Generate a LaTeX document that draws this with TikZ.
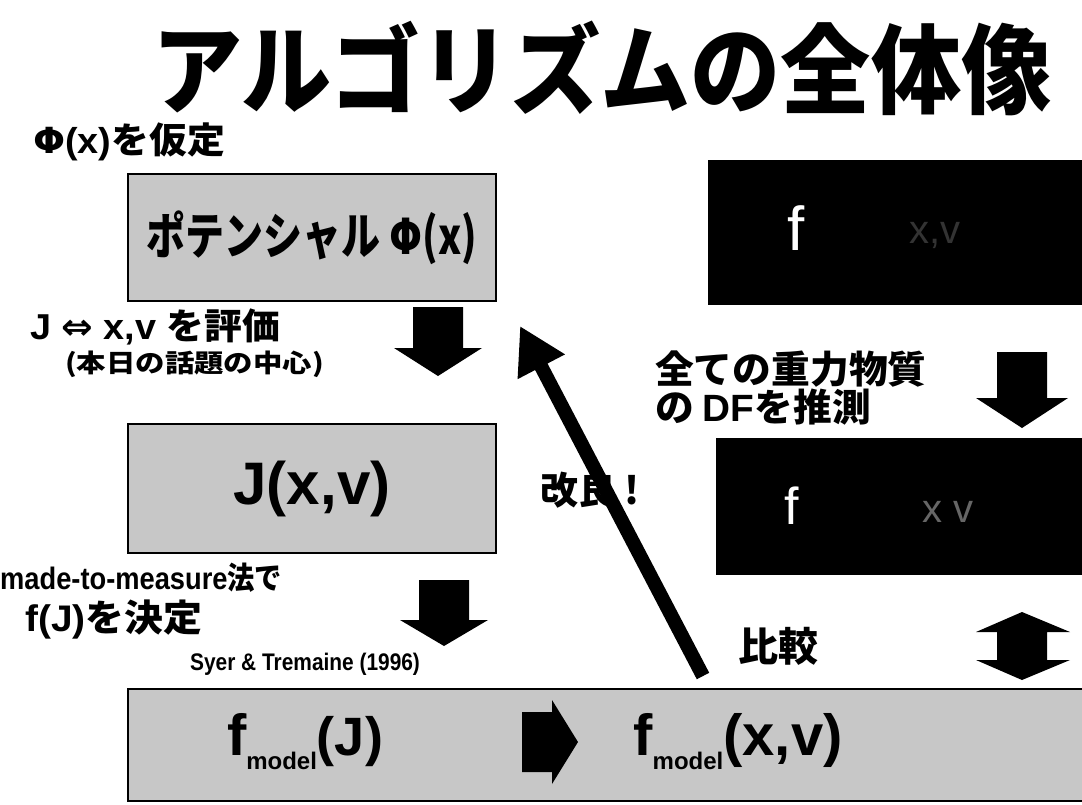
\documentclass[tikz,border=0pt]{standalone}
\usepackage{fontspec}
\setmainfont{Liberation Sans}
\newfontfamily\jp{Noto Sans CJK JP}
\newfontfamily\dv{DejaVu Sans}
\usetikzlibrary{arrows.meta}
\newcommand\blockdown[6]{% cx, ytop, ybot, shaft w, head w, head len
  \fill[black] ({#1-#4/2},#2) -- ({#1+#4/2},#2) -- ({#1+#4/2},{#3-#6}) -- ({#1+#5/2},{#3-#6})
    -- (#1,#3) -- ({#1-#5/2},{#3-#6}) -- ({#1-#4/2},{#3-#6}) -- cycle;}
\begin{document}
\begin{tikzpicture}[x=1pt,y=-1pt,
  graybox/.style={draw=black, line width=2pt, fill=black!22, anchor=north west, inner sep=0pt},
  blackbox/.style={fill=black, anchor=north west, inner sep=0pt},
  lbl/.style={anchor=west, inner sep=0pt, font=\bfseries},
  jpl/.style={anchor=west, inner sep=0pt}]
\useasboundingbox (0,0) rectangle (1082,804);
\fill[white] (0,0) rectangle (1082,804);

% title
\node[inner sep=0pt, font=\jp\bfseries\fontsize{92}{92}\selectfont, xscale=0.98, yscale=1.06] (title) at (602,68) {アルゴリズムの全体像};

% left column
\node[lbl, font=\bfseries\fontsize{36}{36}\selectfont, xscale=1.05] (assume) at (33,142) {{\dv Φ}(x){\jp を仮定}};
\node[graybox, minimum width=368pt, minimum height=127pt] (pot) at (127,173) {};
\node[inner sep=0pt, font=\jp\bfseries\fontsize{50}{50}\selectfont, xscale=0.78] (pottxt) at (pot.center) {ポテンシャル {\dv Φ}(x)};

\node[lbl, font=\bfseries\fontsize{36}{36}\selectfont, xscale=1.05] (eval) at (30,327) {J {\dv ⇔} x,v {\jp を評価}};
\node[lbl, font=\jp\bfseries\fontsize{28}{28}\selectfont, xscale=1.05, yscale=0.9] (topic) at (65,364) {(本日の話題の中心)};
\blockdown{438}{307}{376}{50}{88}{28}

\node[graybox, minimum width=368pt, minimum height=129pt] (jxv) at (127,423) {};
\node[inner sep=0pt, font=\bfseries\fontsize{60}{60}\selectfont] (jxvtxt) at (jxv.center) {J(x,v)};

\node[lbl, font=\bfseries\fontsize{31}{31}\selectfont, xscale=0.88] (m2m) at (0,578) {made-to-measure{\jp 法で}};
\node[lbl, font=\bfseries\fontsize{37}{37}\selectfont, xscale=1.05] (fj) at (25,620) {f(J){\jp を決定}};
\blockdown{444}{580}{646}{50}{88}{26}
\node[lbl, font=\bfseries\fontsize{24}{24}\selectfont, xscale=0.87] (syer) at (190,664) {Syer \& Tremaine (1996)};

% bottom box
\node[graybox, minimum width=960pt, minimum height=112pt] (model) at (127,688) {};
\node[inner sep=0pt, font=\bfseries] (fmj) at (305,742) {{\fontsize{58}{58}\selectfont f}\raisebox{-14pt}{\fontsize{24}{24}\selectfont model}{\fontsize{54}{54}\selectfont (J)}};
\node[inner sep=0pt, font=\bfseries] (fmxv) at (738,742) {{\fontsize{58}{58}\selectfont f}\raisebox{-14pt}{\fontsize{24}{24}\selectfont model}{\fontsize{58}{58}\selectfont (x,v)}};
\fill[black] (522,712) -- (552,712) -- (552,700) -- (578,742) -- (552,784) -- (552,772) -- (522,772) -- cycle;

% right column
\node[blackbox, minimum width=380pt, minimum height=145pt] (obs1) at (708,160) {};
\node[inner sep=0pt, text=white, font=\fontsize{62}{62}\selectfont] (f1) at (796,228) {f};
\node[inner sep=0pt, text=black!80, font=\fontsize{40}{40}\selectfont] (xv1) at (935,235) {x,v};

\node[jpl, font=\jp\bfseries\fontsize{38}{38}\selectfont, xscale=1.02] (all) at (655,369) {全ての重力物質};
\node[jpl, font=\jp\bfseries\fontsize{38}{38}\selectfont, xscale=1.02] (guess) at (655,407) {の {\rmfamily\bfseries DF}を推測};
\blockdown{1022}{352}{428}{50}{92}{30}

\node[blackbox, minimum width=380pt, minimum height=137pt] (obs2) at (716,438) {};
\node[inner sep=0pt, text=white, font=\fontsize{52}{52}\selectfont] (f2) at (792,506) {f};
\node[inner sep=0pt, text=black!60, font=\fontsize{40}{40}\selectfont] (xv2) at (948,512) {x v};

\node[jpl, font=\jp\bfseries\fontsize{40}{40}\selectfont] (comp) at (738,646) {比較};
\fill[black] (1022,612) -- (1070,632) -- (1047,632) -- (1047,660) -- (1070,660) -- (1022,680) -- (976,660) -- (997,660) -- (997,632) -- (976,632) -- cycle;

% improvement arrow
\node[jpl, font=\jp\bfseries\fontsize{38}{38}\selectfont] (impr) at (540,490) {改良 !};
\coordinate (tail) at (703,676);
\coordinate (tip) at (520,326);
\draw[line width=14pt, -{Triangle[length=46pt,width=50pt]}] (tail) -- (tip);
\end{tikzpicture}
\end{document}
